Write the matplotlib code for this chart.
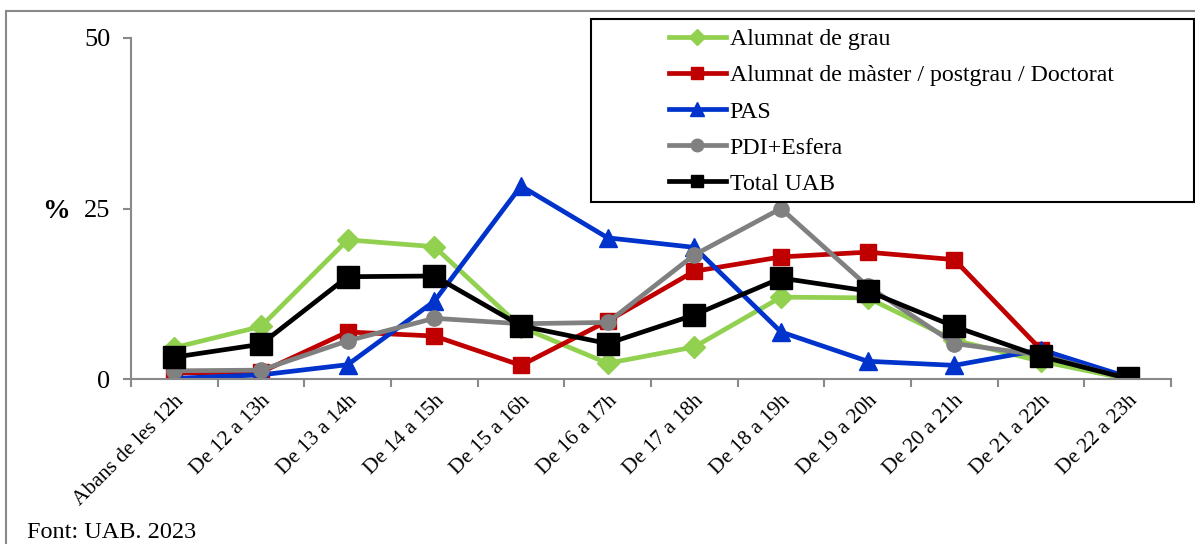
import matplotlib.pyplot as plt
from matplotlib.lines import Line2D
from matplotlib.patches import Rectangle

plt.rcParams['font.family'] = ['Liberation Serif', 'DejaVu Serif']

franges = ['Abans de les 12h', 'De 12 a 13h', 'De 13 a 14h', 'De 14 a 15h',
           'De 15 a 16h', 'De 16 a 17h', 'De 17 a 18h', 'De 18 a 19h',
           'De 19 a 20h', 'De 20 a 21h', 'De 21 a 22h', 'De 22 a 23h']

# % per franja horaria
grau = [4.6, 7.7, 20.4, 19.4, 7.6, 2.3, 4.7, 12.0, 11.9, 5.7, 2.6, 0.0]
master = [0.9, 1.0, 6.9, 6.3, 2.0, 8.5, 15.8, 17.9, 18.6, 17.5, 4.3, 0.0]
pas = [0.1, 0.6, 2.1, 11.4, 28.3, 20.7, 19.3, 6.9, 2.6, 2.0, 4.3, 0.3]
pdi = [1.2, 1.3, 5.6, 8.9, 8.1, 8.3, 18.2, 25.0, 13.6, 5.2, 3.5, 0.0]
total = [3.2, 5.1, 15.0, 15.1, 7.8, 5.2, 9.4, 14.8, 12.9, 7.7, 3.3, 0.1]

x = list(range(len(franges)))

fig = plt.figure(figsize=(11.95, 5.44), dpi=100)
ax = fig.add_axes([131 / 1195, 1 - 379 / 544, (1171 - 131) / 1195, (379 - 38) / 544])

lw = 3.4
ax.plot(x, grau, color='#92D050', lw=lw, marker='D', ms=11, label='Alumnat de grau')
ax.plot(x, master, color='#C00000', lw=lw, marker='s', ms=11,
        label='Alumnat de màster / postgrau / Doctorat')
ax.plot(x, pas, color='#0033CC', lw=lw, marker='^', ms=13, label='PAS')
ax.plot(x, pdi, color='#808080', lw=lw, marker='o', ms=11, label='PDI+Esfera')
ax.plot(x, total, color='black', lw=lw, marker='s', ms=16, label='Total UAB')

ax.set_xlim(-0.5, 11.5)
ax.set_ylim(0, 50)
ax.set_yticks([0, 25, 50])
ax.tick_params(axis='y', labelsize=19, length=6, color='#898989', width=1.5, pad=9)

ax.set_xticks(x)
ax.set_xticklabels(franges, rotation=45, ha='right', va='top', rotation_mode='anchor', fontsize=15.5)
ax.set_xticks([i - 0.5 for i in range(13)], minor=True)
ax.tick_params(axis='x', which='major', length=0, pad=9)
ax.tick_params(axis='x', which='minor', length=6, color='#898989', width=1.5)

for s in ['top', 'right']:
    ax.spines[s].set_visible(False)
for s in ['left', 'bottom']:
    ax.spines[s].set_color('#898989')
    ax.spines[s].set_linewidth(1.5)
ax.patch.set_alpha(0)

fig.text(56 / 1195, 1 - 212 / 544, '%', fontsize=20, fontweight='bold', ha='center', va='center')
fig.text(27 / 1195, 1 - 533 / 544, 'Font: UAB. 2023', fontsize=17.5, ha='left', va='center')

# llegenda amb requadre
handles = [
    Line2D([], [], color='#92D050', lw=lw, marker='D', ms=8),
    Line2D([], [], color='#C00000', lw=lw, marker='s', ms=9),
    Line2D([], [], color='#0033CC', lw=lw, marker='^', ms=10),
    Line2D([], [], color='#808080', lw=lw, marker='o', ms=9),
    Line2D([], [], color='black', lw=lw, marker='s', ms=9),
]
labels = [h.get_label() for h in ax.get_lines()]
fig.legend(handles, labels, loc='upper left', bbox_to_anchor=(652 / 1195, 1 - 12 / 544),
           frameon=False, fontsize=17.2, handlelength=2.4, handletextpad=0.15,
           labelspacing=0.6, borderpad=0.2)
fig.patches.append(Rectangle((591 / 1195, 1 - 202 / 544), (1194 - 591) / 1195, (202 - 19) / 544,
                             transform=fig.transFigure, fill=False, edgecolor='black', lw=1.5))
fig.patches.append(Rectangle((6 / 1195, -0.05), 1.1, 1.05 - 11 / 544,
                             transform=fig.transFigure, fill=False, edgecolor='#898989', lw=1.5))

fig.savefig('out.png', dpi=100)
